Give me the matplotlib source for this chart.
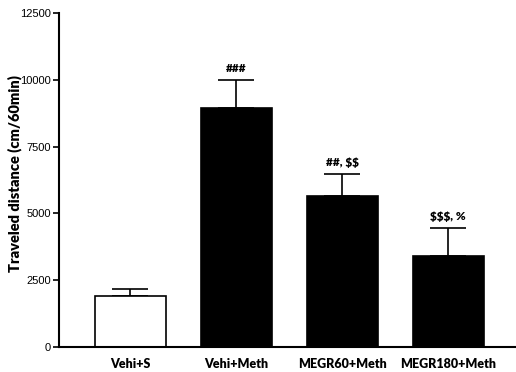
import matplotlib.pyplot as plt

groups = ["Vehi+S", "Vehi+Meth", "MEGR60+Meth", "MEGR180+Meth"]
means = [1900, 8960, 5670, 3420]
sem = [270, 1060, 810, 1040]
marks = ["", "###", "##, $$", "$$$, %"]
colors = ["white", "black", "black", "black"]

fig = plt.figure(figsize=(5.16, 3.72), dpi=100)
ax = fig.add_axes([0.1143, 0.068, 0.8857, 0.896])

x = list(range(len(groups)))
ax.bar(x, means, width=0.67, color=colors, edgecolor="black", linewidth=1.2, zorder=2)
ax.errorbar(x, means, yerr=[[0] * len(sem), sem], fmt="none", ecolor="black",
            elinewidth=1.2, capsize=13, capthick=1.2, zorder=1)

for xi, m, s, t in zip(x, means, sem, marks):
    if t:
        ax.annotate(t, (xi, m + s), xytext=(0, 4), textcoords="offset points",
                    ha="center", va="bottom", fontsize=8.5, fontweight="heavy",
                    family="Lato", parse_math=False)

ax.set_xlim(-0.67, 3.64)
ax.set_ylim(0, 12500)
ax.set_yticks([0, 2500, 5000, 7500, 10000, 12500])
ax.set_xticks(x)
ax.set_xticklabels(groups, fontsize=9, fontweight="heavy", family="Lato")
ax.tick_params(axis="x", length=0, pad=8)
ax.tick_params(axis="y", length=4, width=1.2, labelsize=8, pad=2)
for lab in ax.get_yticklabels():
    lab.set_family("Liberation Sans")
ax.set_ylabel("Traveled distance (cm/60min)", fontsize=10.5, fontweight="heavy",
              family="Lato")
ax.yaxis.set_label_coords(-0.082, 0.52)

for side in ["top", "right"]:
    ax.spines[side].set_visible(False)
for side in ["left", "bottom"]:
    ax.spines[side].set_linewidth(1.5)

fig.savefig("out.png", dpi=100)
